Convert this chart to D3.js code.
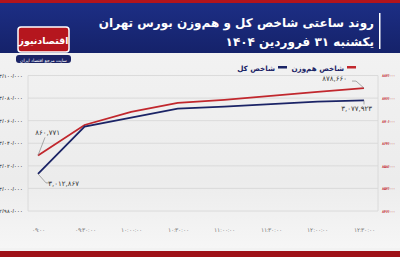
<!DOCTYPE html>
<html>
<head>
<meta charset="utf-8">
<script src="https://cdn.jsdelivr.net/npm/d3@7"></script>
<style>
  body { margin: 0; }
  svg { display: block; font-family: "DejaVu Sans", sans-serif; }
</style>
</head>
<body>
<svg id="chart" width="400" height="257"></svg>
<script>
const times = ["09:00", "09:30:00", "10:00:00", "10:30:00", "11:00:00", "11:30:00", "12:00:00", "12:30:00"];
const totalIndex = [3012867, 3054700, 3062700, 3070700, 3072400, 3074700, 3076900, 3077923];
const equalIndex = [860771, 868850, 872320, 874720, 875520, 876590, 877650, 878660];
const leftTicks = [2980000, 3000000, 3020000, 3040000, 3060000, 3080000, 3100000];
const rightTicks = [846000, 852000, 858000, 864000, 870000, 876000, 882000];

const fa = s => String(s).replace(/\d/g, d => "۰۱۲۳۴۵۶۷۸۹"[d]);
const fmt = (v, sep) => fa(d3.format(",")(v).replace(/,/g, sep));

const svg = d3.select("#chart"),
    W = 400, H = 257,
    plot = { left: 28, right: 378, top: 75.5, bottom: 211 };

const red = "#c1272d", navy = "#1b2466";

// background
const defs = svg.append("defs");
const bg = defs.append("linearGradient").attr("id", "bg").attr("x1", 0).attr("y1", 0).attr("x2", 0).attr("y2", 1);
bg.append("stop").attr("offset", "0%").attr("stop-color", "#f4f4f4");
bg.append("stop").attr("offset", "70%").attr("stop-color", "#ececec");
bg.append("stop").attr("offset", "100%").attr("stop-color", "#f7f7f7");
const hd = defs.append("linearGradient").attr("id", "hd").attr("x1", 0).attr("y1", 0).attr("x2", 0).attr("y2", 1);
hd.append("stop").attr("offset", "0%").attr("stop-color", "#1d2f86");
hd.append("stop").attr("offset", "100%").attr("stop-color", "#15226a");

svg.append("rect").attr("width", W).attr("height", H).attr("fill", "url(#bg)");
svg.append("rect").attr("width", W).attr("height", 53).attr("fill", "url(#hd)");
svg.append("rect").attr("width", W).attr("height", 3).attr("fill", "#b3141c");
svg.append("rect").attr("y", 251).attr("width", W).attr("height", 6).attr("fill", "#9e1118");
svg.append("rect").attr("y", 248).attr("width", W).attr("height", 3).attr("fill", "#f2f2f2");

// header text
svg.append("rect").attr("x", 379).attr("y", 13).attr("width", 1.5).attr("height", 36).attr("fill", "#fff");
svg.append("text").attr("x", 374).attr("y", 27).attr("text-anchor", "start")
    .attr("fill", "#fff").attr("font-size", 12).attr("font-weight", "bold").attr("direction", "rtl")
    .text("روند ساعتی شاخص کل و هم‌وزن بورس تهران");
svg.append("text").attr("x", 374).attr("y", 46).attr("text-anchor", "start")
    .attr("fill", "#fff").attr("font-size", 12).attr("font-weight", "bold").attr("direction", "rtl")
    .text(fa("یکشنبه 31 فروردین 1404"));

// logo
svg.append("rect").attr("x", 18).attr("y", 27).attr("width", 51).attr("height", 25).attr("rx", 3)
    .attr("fill", "#b5161e").attr("stroke", "#fff").attr("stroke-width", 1.5);
svg.append("text").attr("x", 43.5).attr("y", 44).attr("text-anchor", "middle")
    .attr("fill", "#fff").attr("font-size", 9.5).attr("font-weight", "bold").text("اقتصادنیوز");
svg.append("rect").attr("x", 16).attr("y", 55).attr("width", 55).attr("height", 8).attr("rx", 3).attr("fill", navy);
svg.append("text").attr("x", 43.5).attr("y", 61.5).attr("text-anchor", "middle")
    .attr("fill", "#fff").attr("font-size", 4.5).text("سایت مرجع اقتصاد ایران");

// scales
const x = d3.scalePoint().domain(times).range([38, 364]);
const yL = d3.scaleLinear().domain([2980000, 3100000]).range([plot.bottom, plot.top]);
const yR = d3.scaleLinear().domain([846000, 882000]).range([plot.bottom, plot.top]);

// grid
svg.append("g").selectAll("line").data(leftTicks).join("line")
    .attr("x1", plot.left).attr("x2", plot.right)
    .attr("y1", d => yL(d)).attr("y2", d => yL(d))
    .attr("stroke", "#d6d6d6").attr("stroke-width", 0.8);
svg.append("g").selectAll("line").data([plot.left, plot.right]).join("line")
    .attr("x1", d => d).attr("x2", d => d).attr("y1", plot.top).attr("y2", plot.bottom)
    .attr("stroke", "#d6d6d6").attr("stroke-width", 0.8);

// axes
const axL = svg.append("g").attr("transform", `translate(${plot.left - 2},0)`)
    .call(d3.axisLeft(yL).tickValues(leftTicks).tickSize(0).tickFormat(d => fmt(d, "/")));
axL.select(".domain").remove();
axL.selectAll("text").attr("fill", "#555").attr("font-size", 5).attr("font-weight", "bold");

const axR = svg.append("g").attr("transform", `translate(${plot.right + 1},0)`)
    .call(d3.axisRight(yR).tickValues(rightTicks).tickSize(0).tickFormat(d => fmt(d, "/")));
axR.select(".domain").remove();
axR.selectAll("text").attr("fill", red).attr("font-size", 4.4).attr("font-weight", "bold");

const axB = svg.append("g").attr("transform", `translate(0,225)`)
    .call(d3.axisBottom(x).tickSize(0).tickFormat(fa));
axB.select(".domain").remove();
axB.selectAll("text").attr("fill", "#777").attr("font-size", 5.5);

// lines
const lineL = d3.line().x((d, i) => x(times[i])).y(d => yL(d));
const lineR = d3.line().x((d, i) => x(times[i])).y(d => yR(d));
svg.append("path").datum(equalIndex).attr("d", lineR)
    .attr("fill", "none").attr("stroke", red).attr("stroke-width", 1.8);
svg.append("path").datum(totalIndex).attr("d", lineL)
    .attr("fill", "none").attr("stroke", navy).attr("stroke-width", 1.8);

// annotations: leader lines from the end points to the value labels
const ann = (px, py, pts, tx, ty, v) => {
    svg.append("path")
        .attr("d", "M" + [[px, py]].concat(pts.map(p => [px + p[0], py + p[1]])).join("L"))
        .attr("stroke", "#888").attr("stroke-width", 0.7).attr("fill", "none");
    svg.append("text").attr("x", tx).attr("y", ty).attr("text-anchor", "end")
        .attr("fill", "#333").attr("font-size", 7).text(fmt(v, ","));
};
ann(x(times[0]), yR(equalIndex[0]), [[7, -18]], 60, 135, equalIndex[0]);
ann(x(times[0]), yL(totalIndex[0]), [[8, 9], [12, 9]], 79, 186, totalIndex[0]);
ann(x(times[7]), yR(equalIndex[7]), [[-8, -7], [-12, -7]], 347, 81, equalIndex[7]);
ann(x(times[7]), yL(totalIndex[7]), [[0, 4]], 372, 111, totalIndex[7]);

// legend
const legend = [
    { label: "شاخص هم‌وزن", color: red, x: 356 },
    { label: "شاخص کل", color: navy, x: 287 }
];
legend.forEach(l => {
    svg.append("rect").attr("x", l.x - 9).attr("y", 66).attr("width", 9).attr("height", 2.5).attr("fill", l.color);
    svg.append("text").attr("x", l.x - 12).attr("y", 70.5).attr("text-anchor", "start")
        .attr("fill", navy).attr("font-size", 7.2).attr("font-weight", "bold").attr("direction", "rtl")
        .text(l.label);
});
</script>
</body>
</html>
